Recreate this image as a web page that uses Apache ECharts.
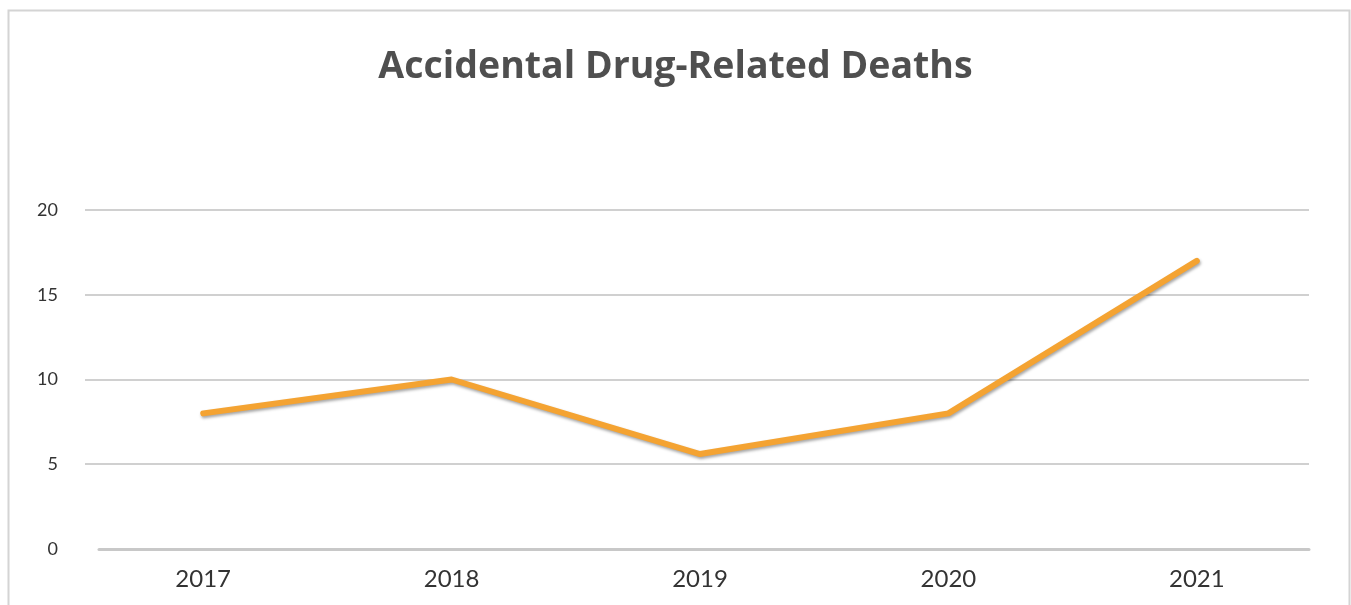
<!DOCTYPE html>
<html>
<head>
<meta charset="utf-8">
<script src="https://cdn.jsdelivr.net/npm/echarts@6/dist/echarts.min.js"></script>
<style>
html,body{margin:0;padding:0;background:#fff;}
#chart{width:1351px;height:605px;}
</style>
</head>
<body>
<div id="chart"></div>
<script>
const years = ['2017', '2018', '2019', '2020', '2021'];
const deaths = [8, 10, 5.6, 8, 17];
const yTicks = [0, 5, 10, 15, 20];

const chart = echarts.init(document.getElementById('chart'));
chart.setOption({
  backgroundColor: '#ffffff',
  animation: false,
  title: {
    text: 'Accidental Drug-Related Deaths',
    left: 'center',
    top: 43,
    textStyle: { fontFamily: 'Open Sans', fontWeight: 'bold', fontSize: 37.5, color: '#4f4f4f' }
  },
  graphic: [{
    type: 'rect',
    shape: { x: 8.5, y: 10.5, width: 1341, height: 610 },
    style: { fill: 'none', stroke: '#d4d4d4', lineWidth: 2 },
    silent: true
  }],
  grid: [
    { left: 79, right: 30, top: 210, bottom: 56 },
    { left: 85, right: 42, top: 210, bottom: 141 },
    { left: 99, right: 42, top: 210, bottom: 56 }
  ],
  xAxis: [{
    gridIndex: 0,
    type: 'category',
    data: years,
    boundaryGap: true,
    axisLine: { show: false },
    axisTick: { show: false },
    axisLabel: { fontFamily: 'Lato', fontSize: 24, color: '#333333', margin: 18 },
    splitLine: { show: false }
  }, {
    gridIndex: 1,
    type: 'category',
    data: years,
    show: false
  }, {
    gridIndex: 2,
    type: 'category',
    data: years,
    axisLine: { show: true, lineStyle: { color: '#c8c8c8', width: 3 } },
    axisTick: { show: false },
    axisLabel: { show: false },
    splitLine: { show: false }
  }],
  yAxis: [{
    gridIndex: 0,
    type: 'value',
    min: yTicks[0],
    max: yTicks[yTicks.length - 1],
    interval: 5,
    axisLine: { show: false },
    axisTick: { show: false },
    axisLabel: { fontFamily: 'Lato', fontSize: 18, color: '#333333', margin: 21 },
    splitLine: { show: false }
  }, {
    gridIndex: 1,
    type: 'value',
    min: yTicks[1],
    max: yTicks[yTicks.length - 1],
    interval: 5,
    axisLine: { show: false },
    axisTick: { show: false },
    axisLabel: { show: false },
    splitLine: { lineStyle: { color: '#d0d0d0', width: 2 } }
  }, {
    gridIndex: 2,
    type: 'value',
    min: 0, max: 20,
    show: false,
    splitLine: { show: false }
  }],
  series: [{
    type: 'line',
    xAxisIndex: 0,
    yAxisIndex: 0,
    data: deaths,
    symbol: 'none',
    z: 5,
    lineStyle: {
      color: '#F4A332', width: 6, cap: 'round', join: 'round',
      shadowColor: 'rgba(0,0,0,0.35)', shadowBlur: 3, shadowOffsetX: 1, shadowOffsetY: 2
    }
  }]
});
</script>
</body>
</html>
